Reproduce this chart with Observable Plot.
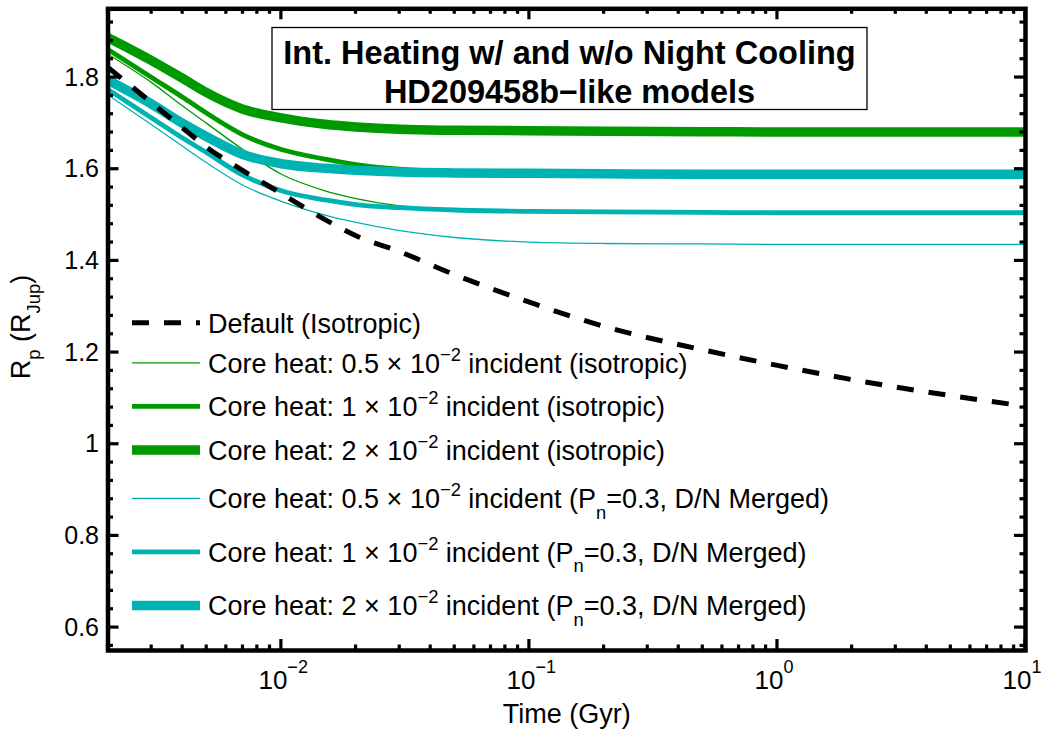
<!DOCTYPE html>
<html><head><meta charset="utf-8">
<script src="https://cdn.jsdelivr.net/npm/d3@7"></script>
<script src="https://cdn.jsdelivr.net/npm/@observablehq/plot@0.6"></script>
<style>
body{margin:0;background:#fff;}
svg{font-family:"Liberation Sans",Arial,Helvetica,sans-serif;}
</style>
</head><body><div id="chart"></div>
<script>
// ---- data ----
const times = [0.002,0.003,0.004,0.005,0.007,0.01,0.015,0.02,0.03,0.05,0.1,0.2,0.5,1,2,5,10];
const defaultIso = [1.822,1.745,1.690,1.648,1.597,1.547,1.490,1.455,1.420,1.370,1.310,1.257,1.206,1.172,1.141,1.106,1.083];
const iso05 = [1.851,1.789,1.738,1.700,1.643,1.589,1.553,1.536,1.520,1.512,1.507,1.505,1.504,1.503,1.503,1.503,1.503];
const iso1  = [1.861,1.800,1.757,1.722,1.675,1.643,1.622,1.610,1.600,1.595,1.593,1.592,1.592,1.591,1.591,1.591,1.591];
const iso2  = [1.887,1.837,1.798,1.767,1.731,1.712,1.698,1.692,1.687,1.685,1.684,1.683,1.682,1.681,1.681,1.681,1.681];
const dn05  = [1.762,1.697,1.650,1.614,1.565,1.530,1.500,1.484,1.466,1.451,1.441,1.438,1.437,1.436,1.436,1.436,1.436];
const dn1   = [1.774,1.712,1.668,1.636,1.587,1.553,1.533,1.523,1.516,1.511,1.508,1.507,1.506,1.505,1.505,1.505,1.505];
const dn2   = [1.794,1.742,1.700,1.671,1.632,1.612,1.602,1.598,1.594,1.592,1.591,1.590,1.589,1.589,1.589,1.589,1.589];

const legendLabels = [
  "Default (Isotropic)",
  "Core heat: 0.5 × 10^{−2} incident (isotropic)",
  "Core heat: 1 × 10^{−2} incident (isotropic)",
  "Core heat: 2 × 10^{−2} incident (isotropic)",
  "Core heat: 0.5 × 10^{−2} incident (P_{n}=0.3, D/N Merged)",
  "Core heat: 1 × 10^{−2} incident (P_{n}=0.3, D/N Merged)",
  "Core heat: 2 × 10^{−2} incident (P_{n}=0.3, D/N Merged)"
];
const titleLines = ["Int. Heating w/ and w/o Night Cooling", "HD209458b\u2212like models"];
const xTicks = [0.01, 0.1, 1, 10];
const xTickExp = ["\u22122", "\u22121", "0", "1"];
const yTicks = [0.6, 0.8, 1, 1.2, 1.4, 1.6, 1.8];
const xLabel = "Time (Gyr)";
const yLabel = "R_{p} (R_{Jup})";

// ---- styles ----
const GREEN = "#009900", CYAN = "#00b3b3";
const series = [
  {values: defaultIso, stroke: "#000", w: 5, dash: "17,15"},
  {values: iso05, stroke: GREEN, w: 1.3},
  {values: iso1,  stroke: GREEN, w: 4.8},
  {values: iso2,  stroke: GREEN, w: 9.5},
  {values: dn05,  stroke: CYAN, w: 1.3},
  {values: dn1,   stroke: CYAN, w: 4.8},
  {values: dn2,   stroke: CYAN, w: 9.5}
];
const drawOrder = [3, 2, 1, 6, 5, 4, 0];

const W = 1045, H = 730;
const M = {left: 107.5, right: 20, top: 8.3, bottom: 80};

// minor tick positions
const xMinor = [];
for (const d of [0.001, 0.01, 0.1, 1]) for (let k = 2; k <= 9; k++) { const v = +(d * k).toPrecision(3); if (v >= 0.002 && v < 10) xMinor.push(v); }
const yMinor = [];
for (let i = 14; i <= 48; i++) { const v = +(i * 0.04).toFixed(2); if (v >= 0.55 && v <= 1.95 && Math.abs(v / 0.2 - Math.round(v / 0.2)) > 1e-6) yMinor.push(v); }

const lineMarks = drawOrder.map(i => {
  const s = series[i];
  return Plot.line(s.values, {
    x: (d, j) => times[j], y: d => d, curve: "monotone-x",
    stroke: s.stroke, strokeWidth: s.w,
    strokeDasharray: s.dash || null, strokeLinecap: "butt"
  });
});

const chart = Plot.plot({
  width: W, height: H,
  marginLeft: M.left, marginRight: M.right, marginTop: M.top, marginBottom: M.bottom,
  x: {type: "log", domain: [0.002, 10], axis: null},
  y: {domain: [0.55, 1.95], axis: null},
  style: {background: "white", fontFamily: '"Liberation Sans",Arial,sans-serif'},
  marks: [
    ...lineMarks,
    Plot.frame({stroke: "black", strokeWidth: 4.5}),
    Plot.text(yTicks, {y: d => d, text: d => String(d), frameAnchor: "left", textAnchor: "end", dx: -9, fontSize: 25, fill: "black"}),
    Plot.text(xTicks, {x: d => d, text: () => "10", frameAnchor: "bottom", textAnchor: "end", dx: 6, dy: 38, fontSize: 26, fill: "black"}),
    Plot.text(xTicks, {x: d => d, text: (d, i) => xTickExp[i], frameAnchor: "bottom", textAnchor: "start", dx: 6, dy: 22, fontSize: 18, fill: "black"}),
    Plot.text([xLabel], {frameAnchor: "bottom", dy: 72, fontSize: 27, fill: "black"})
  ]
});
document.getElementById("chart").appendChild(chart);

const svg = d3.select(chart);
const sx = chart.scale("x"), sy = chart.scale("y");
const xL = M.left, xR = W - M.right, yT = M.top, yB = H - M.bottom;

// inward ticks on all four sides, placed with the plot's own scales
const tg0 = svg.append("g").attr("stroke", "black").attr("stroke-width", 3.2);
const tickSets = [[xTicks, 11], [xMinor, 5.5]];
for (const [vals, len] of tickSets) for (const v of vals) {
  const px = sx.apply(v);
  tg0.append("line").attr("x1", px).attr("x2", px).attr("y1", yB).attr("y2", yB - len);
  tg0.append("line").attr("x1", px).attr("x2", px).attr("y1", yT).attr("y2", yT + len);
}
for (const [vals, len] of [[yTicks, 11], [yMinor, 5.5]]) for (const v of vals) {
  const py = sy.apply(v);
  tg0.append("line").attr("y1", py).attr("y2", py).attr("x1", xL).attr("x2", xL + len);
  tg0.append("line").attr("y1", py).attr("y2", py).attr("x1", xR).attr("x2", xR - len);
}

// ---- rich text helper (^{sup}, _{sub}) ----
function rich(textSel, str, fs) {
  const parts = str.split(/(\^\{[^}]*\}|_\{[^}]*\})/).filter(p => p.length);
  let cur = 0;
  for (const p of parts) {
    let target = 0, size = fs, t = p;
    if (p.startsWith("^{")) { target = -0.45 * fs; size = 0.68 * fs; t = p.slice(2, -1); }
    else if (p.startsWith("_{")) { target = 0.38 * fs; size = 0.68 * fs; t = p.slice(2, -1); }
    textSel.append("tspan").attr("dy", target - cur).attr("font-size", size).text(t);
    cur = target;
  }
}

// y label
const yl = svg.append("text").attr("transform", "translate(30,327) rotate(-90)")
  .attr("text-anchor", "middle").attr("font-size", 27).attr("fill", "black");
rich(yl, yLabel, 27);

// title box
const tg = svg.append("g");
tg.append("rect").attr("x", 272).attr("y", 27.5).attr("width", 595).attr("height", 82)
  .attr("fill", "white").attr("stroke", "black").attr("stroke-width", 1.3);
titleLines.forEach((t, i) => {
  tg.append("text").attr("x", 569.5).attr("y", 64 + i * 39).attr("text-anchor", "middle")
    .attr("font-size", 32.5).attr("font-weight", "bold").attr("fill", "black").text(t);
});

// legend
const lg = svg.append("g").attr("text-anchor", "start");
const rowH = legendLabels.map(l => l.includes("_{") ? 53.5 : l.includes("^{") ? 43.5 : 37);
let yy = 322.7;
legendLabels.forEach((lab, i) => {
  if (i > 0) yy += (rowH[i - 1] + rowH[i]) / 2;
  const s = series[i];
  lg.append("line").attr("x1", 132).attr("x2", 200).attr("y1", yy).attr("y2", yy)
    .attr("stroke", s.stroke).attr("stroke-width", s.w)
    .attr("stroke-dasharray", s.dash || null);
  const tx = lg.append("text").attr("x", 208).attr("y", yy + 10).attr("font-size", 27)
    .attr("text-anchor", "start").attr("fill", "black");
  rich(tx, lab, 27);
});
</script>
</body></html>
